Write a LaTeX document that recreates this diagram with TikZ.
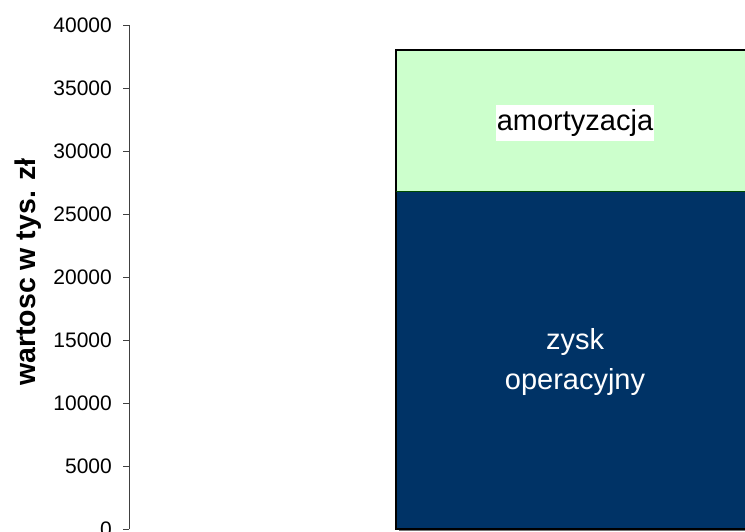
\documentclass[tikz,border=0pt]{standalone}
\usepackage{fontspec}
\setmainfont{Liberation Sans}
\definecolor{amortgreen}{HTML}{CCFFCC}
\definecolor{zyskblue}{HTML}{003366}

\begin{document}
\begin{tikzpicture}[x=1pt, y=63pt,
		ticklab/.style = {anchor=east, inner sep=0pt, font=\fontsize{21}{25}\selectfont},
		barlab/.style = {align=center, font=\fontsize{29}{40}\selectfont},
		axislab/.style = {rotate=90, anchor=base, inner sep=0pt, font=\fontsize{28.5}{34}\selectfont\bfseries}]
				\useasboundingbox (0,-0.0317) rectangle (745,8.397);
				% os pionowa
				\coordinate (O) at (129,0);
				\coordinate (T) at (129,8);
				\draw[line width=0.8pt, black!75] (O) -- (T);
				\foreach \v in {0,...,8} {
					\coordinate (k\v) at (129,\v);
					\draw[line width=0.8pt, black!75] (k\v) -- ++(-6,0);
					\node[ticklab] (t\v) at (112,\v) {\number\numexpr\v*5000\relax};
				}
				\node[axislab] (ylab) at (35,4.08) {wartosc w tys. zł};
				% slupek
				\fill[black!55] (399,-0.03) rectangle (757,7.57);
				\filldraw[fill=zyskblue, draw=black, line width=1.6pt] (396,0) rectangle (754,5.36);
				\filldraw[fill=amortgreen, draw=black, line width=1.6pt] (396,5.36) rectangle (754,7.6);
				\draw[line width=1.2pt, black!70!green] (396,5.36) -- (754,5.36);
				\node[barlab, fill=white, inner xsep=1pt, inner ysep=0pt, minimum height=36pt] (amort) at (575,6.45) {amortyzacja};
				\node[barlab, text=white] (zysk) at (575,2.65) {zysk\\operacyjny};
			\end{tikzpicture}
\end{document}
